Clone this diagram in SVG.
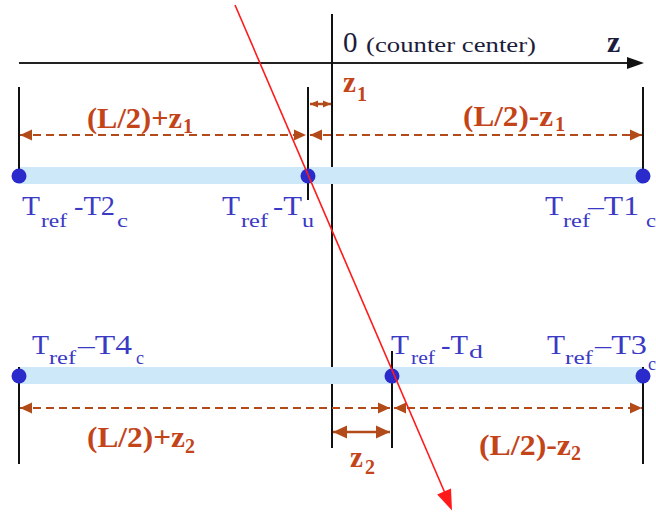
<svg xmlns="http://www.w3.org/2000/svg" width="656" height="516" viewBox="0 0 656 516">
<style>
.ax{stroke:#222;stroke-width:2;fill:none}
.vl{stroke:#111;stroke-width:2;fill:none}
.band{fill:#cde9f9}
.dot{fill:#2b2bcc}
.dash{stroke:#b34a1a;stroke-width:2;stroke-dasharray:8 5;fill:none}
.sol{stroke:#b34a1a;stroke-width:2.5;fill:none}
.ray{stroke:#ff1a1a;stroke-width:1.6;fill:none}
text{font-family:'Liberation Serif','DejaVu Serif',serif}
.bl{fill:#3a3ac4;font-size:27px}
.bls{fill:#3a3ac4;font-size:19px}
.br{fill:#c4441a;font-size:29px;font-weight:bold}
.brs{fill:#c4441a;font-size:20px;font-weight:bold}
.dk{fill:#1c1c3c}
</style>
<defs>
<marker id="ah" viewBox="0 0 12 12" refX="12" refY="6" markerWidth="12" markerHeight="12" markerUnits="userSpaceOnUse" orient="auto-start-reverse"><path d="M0,0.5 L12,6 L0,11.5 z" fill="#b34a1a"/></marker>
<marker id="ahs" viewBox="0 0 8 8" refX="8" refY="4" markerWidth="8" markerHeight="8" markerUnits="userSpaceOnUse" orient="auto-start-reverse"><path d="M0,0.5 L8,4 L0,7.5 z" fill="#b34a1a"/></marker>
<marker id="ahb" viewBox="0 0 14 14" refX="14" refY="7" markerWidth="14" markerHeight="14" markerUnits="userSpaceOnUse" orient="auto-start-reverse"><path d="M0,0.5 L14,7 L0,13.5 z" fill="#b34a1a"/></marker>
</defs>

<g id="axis">
<line class="ax" x1="19" y1="63" x2="628" y2="63"/>
<polygon points="627,57 644,63 627,69" fill="#111"/>
<line class="vl" x1="332" y1="14" x2="332" y2="448"/>
<text class="dk" x="343" y="52" font-size="29">0</text>
<text class="dk" x="366" y="52" font-size="22" textLength="170" lengthAdjust="spacingAndGlyphs">(counter center)</text>
<text class="dk" x="607" y="52" font-size="30" font-weight="bold">z</text>
</g>

<g id="counter-top">
<rect class="band" x="19" y="167" width="624" height="17"/>
<line class="vl" x1="19" y1="87" x2="19" y2="176"/>
<line class="vl" x1="643" y1="87" x2="643" y2="176"/>
<line class="vl" x1="308" y1="87" x2="308" y2="200"/>
</g>
<g id="node-T2c">
<circle class="dot" cx="19" cy="176" r="7.5"/>
<text class="bl" x="22" y="215" textLength="18" lengthAdjust="spacingAndGlyphs">T</text>
<text class="bls" x="41" y="227" textLength="26" lengthAdjust="spacingAndGlyphs">ref</text>
<text class="bl" x="74" y="215" textLength="41" lengthAdjust="spacingAndGlyphs">-T2</text>
<text class="bls" x="117" y="227" textLength="11" lengthAdjust="spacingAndGlyphs">c</text>
</g>
<g id="node-Tu">
<circle class="dot" cx="308" cy="176" r="7.5"/>
<text class="bl" x="222" y="215" textLength="18" lengthAdjust="spacingAndGlyphs">T</text>
<text class="bls" x="241" y="227" textLength="27" lengthAdjust="spacingAndGlyphs">ref</text>
<text class="bl" x="273" y="215" textLength="29" lengthAdjust="spacingAndGlyphs">-T</text>
<text class="bls" x="302" y="227" textLength="12" lengthAdjust="spacingAndGlyphs">u</text>
</g>
<g id="node-T1c">
<circle class="dot" cx="643" cy="176" r="7.5"/>
<text class="bl" x="545" y="215" textLength="18" lengthAdjust="spacingAndGlyphs">T</text>
<text class="bls" x="563" y="227" textLength="27" lengthAdjust="spacingAndGlyphs">ref</text>
<text class="bl" x="588" y="215" textLength="51" lengthAdjust="spacingAndGlyphs">–T1</text>
<text class="bls" x="646" y="227" textLength="10" lengthAdjust="spacingAndGlyphs">c</text>
</g>

<g id="counter-bottom">
<rect class="band" x="19" y="367" width="624" height="17"/>
<line class="vl" x1="19" y1="367" x2="19" y2="464"/>
<line class="vl" x1="643" y1="367" x2="643" y2="464"/>
<line class="vl" x1="392" y1="351" x2="392" y2="448"/>
</g>
<g id="node-T4c">
<circle class="dot" cx="19" cy="376" r="7.5"/>
<text class="bl" x="32" y="354" textLength="17" lengthAdjust="spacingAndGlyphs">T</text>
<text class="bls" x="49" y="364" textLength="27" lengthAdjust="spacingAndGlyphs">ref</text>
<text class="bl" x="78" y="354" textLength="54" lengthAdjust="spacingAndGlyphs">–T4</text>
<text class="bls" x="136" y="364" textLength="8" lengthAdjust="spacingAndGlyphs">c</text>
</g>
<g id="node-Td">
<circle class="dot" cx="392" cy="376" r="7.5"/>
<text class="bl" x="391" y="354" textLength="18" lengthAdjust="spacingAndGlyphs">T</text>
<text class="bls" x="411" y="364" textLength="24" lengthAdjust="spacingAndGlyphs">ref</text>
<text class="bl" x="441" y="354" textLength="27" lengthAdjust="spacingAndGlyphs">-T</text>
<text class="bls" x="469" y="358" textLength="14" lengthAdjust="spacingAndGlyphs">d</text>
</g>
<g id="node-T3c">
<circle class="dot" cx="643" cy="376" r="7.5"/>
<text class="bl" x="547" y="354" textLength="18" lengthAdjust="spacingAndGlyphs">T</text>
<text class="bls" x="565" y="364" textLength="28" lengthAdjust="spacingAndGlyphs">ref</text>
<text class="bl" x="595" y="354" textLength="52" lengthAdjust="spacingAndGlyphs">–T3</text>
<text class="bls" x="648" y="370" textLength="8" lengthAdjust="spacingAndGlyphs">c</text>
</g>

<g id="connectors">
<line class="dash" x1="20" y1="135" x2="306" y2="135" marker-start="url(#ah)" marker-end="url(#ah)"/>
<line class="dash" x1="310" y1="135" x2="642" y2="135" marker-start="url(#ah)" marker-end="url(#ah)"/>
<line class="sol" x1="310" y1="104" x2="331" y2="104" stroke-width="2" marker-start="url(#ahs)" marker-end="url(#ahs)"/>
<line class="dash" x1="20" y1="408" x2="390" y2="408" marker-start="url(#ah)" marker-end="url(#ah)"/>
<line class="dash" x1="394" y1="408" x2="642" y2="408" marker-start="url(#ah)" marker-end="url(#ah)"/>
<line class="sol" x1="333" y1="432" x2="390" y2="432" marker-start="url(#ahb)" marker-end="url(#ahb)"/>
<line class="ray" x1="235" y1="5" x2="444.5" y2="492"/>
<polygon points="437.2,494.6 452,510.5 451,488.6" fill="#ff1a1a"/>
</g>

<g id="labels">
<text class="br" x="87" y="128" textLength="95" lengthAdjust="spacingAndGlyphs">(L/2)+z</text>
<text class="brs" x="183" y="133">1</text>
<text class="br" x="463" y="126" textLength="90" lengthAdjust="spacingAndGlyphs">(L/2)-z</text>
<text class="brs" x="555" y="131">1</text>
<text class="br" x="343" y="92">z</text>
<text class="brs" x="357" y="101">1</text>
<text class="br" x="87" y="447" textLength="98" lengthAdjust="spacingAndGlyphs">(L/2)+z</text>
<text class="brs" x="185" y="453">2</text>
<text class="br" x="479" y="455" textLength="92" lengthAdjust="spacingAndGlyphs">(L/2)-z</text>
<text class="brs" x="571" y="460">2</text>
<text class="br" x="350" y="467">z</text>
<text class="brs" x="365" y="474">2</text>
</g>
</svg>
